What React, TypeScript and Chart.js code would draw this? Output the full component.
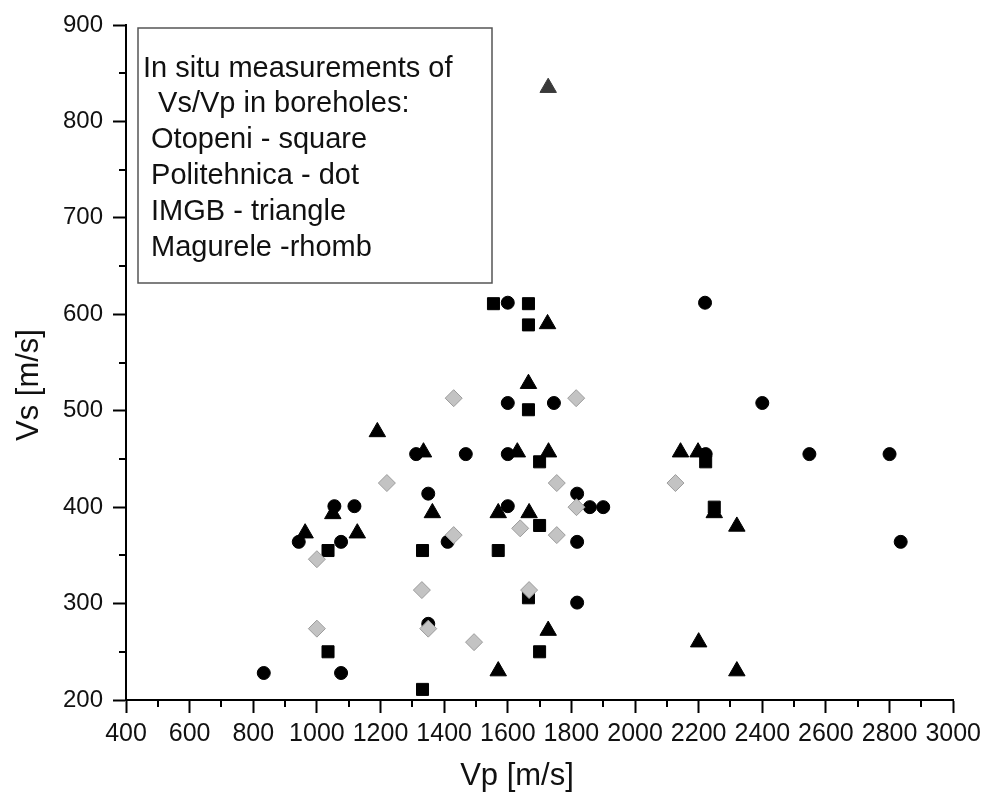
import React, { useEffect, useRef } from "react";
import { Chart, registerables } from "chart.js";

Chart.register(...registerables);

// Borehole measurements: P-wave velocity (Vp) and S-wave velocity (Vs), m/s
const otopeniVp = [1555, 1665, 1665, 1665, 1700, 2222, 2249, 1700, 1035, 1332, 1570, 1665, 1035, 1700, 1332];
const otopeniVs = [611, 611, 589, 501, 447, 447, 400, 381, 355, 355, 355, 306, 250, 250, 211];

const politehnicaVp = [1600, 2220, 1600, 1745, 2400, 1312, 1468, 1600, 2222, 2548, 2800, 1350, 1818, 1055, 1118, 1600, 1858, 1900, 943, 1076, 1411, 1818, 2835, 1818, 1350, 833, 1076];
const politehnicaVs = [612, 612, 508, 508, 508, 455, 455, 455, 455, 455, 455, 414, 414, 401, 401, 401, 400, 400, 364, 364, 364, 364, 364, 301, 279, 228, 228];

const imgbVp = [1727, 1725, 1665, 1190, 1335, 1630, 1728, 2143, 2198, 1050, 1363, 1570, 1667, 2249, 963, 1127, 2320, 1727, 2200, 1570, 2320];
const imgbVs = [835, 590, 528, 478, 457, 457, 457, 457, 457, 393, 394, 394, 394, 394, 373, 373, 380, 272, 260, 230, 230];

const magureleVp = [1430, 1815, 1220, 1754, 2127, 1816, 1639, 1430, 1754, 1000, 1330, 1667, 1000, 1350, 1494];
const magureleVs = [513, 513, 425, 425, 425, 400, 378, 371, 371, 346, 314, 314, 274, 274, 260];

const xTickValues = [400, 600, 800, 1000, 1200, 1400, 1600, 1800, 2000, 2200, 2400, 2600, 2800, 3000];
const yTickValues = [200, 300, 400, 500, 600, 700, 800, 900];

const noteLines = [
  "In situ measurements of",
  " Vs/Vp in boreholes:",
  " Otopeni - square",
  " Politehnica - dot",
  " IMGB - triangle",
  " Magurele -rhomb",
];

const xTitle = "Vp [m/s]";
const yTitle = "Vs [m/s]";

const FONT = "'Liberation Sans', Arial, Helvetica, sans-serif";

const toPoints = (xs: number[], ys: number[]) => xs.map((x, i) => ({ x, y: ys[i] }));

// Minor ticks, axis titles and the boxed note
const decorPlugin = {
  id: "decor",
  beforeDatasetsDraw(chart: any) {
    const { ctx } = chart;
    ctx.save();
    // note box
    ctx.fillStyle = "#ffffff";
    ctx.fillRect(138, 28, 354, 255);
    ctx.strokeStyle = "#555555";
    ctx.lineWidth = 1.5;
    ctx.strokeRect(138, 28, 354, 255);
    ctx.fillStyle = "#111111";
    ctx.font = `29px ${FONT}`;
    ctx.textAlign = "left";
    ctx.textBaseline = "alphabetic";
    const xs = [143, 150, 143, 143, 143, 143];
    const baselines = [77, 112, 148, 184, 220, 256];
    noteLines.forEach((t, i) => ctx.fillText(t, xs[i], baselines[i]));
    ctx.restore();
  },
  afterDraw(chart: any) {
    const { ctx, scales } = chart;
    const xs = scales.x;
    const ys = scales.y;
    ctx.save();
    ctx.strokeStyle = "#000";
    ctx.lineWidth = 2;
    ctx.beginPath();
    for (let v = 500; v < 3000; v += 200) {
      const px = Math.round(xs.getPixelForValue(v));
      ctx.moveTo(px, xs.top);
      ctx.lineTo(px, xs.top + 7);
    }
    for (let v = 250; v < 900; v += 100) {
      const py = Math.round(ys.getPixelForValue(v));
      ctx.moveTo(ys.right - 7, py);
      ctx.lineTo(ys.right, py);
    }
    ctx.stroke();

    ctx.fillStyle = "#111111";
    ctx.font = `31px ${FONT}`;
    ctx.textAlign = "center";
    ctx.textBaseline = "middle";
    ctx.fillText(xTitle, 517, 776);
    ctx.translate(29, 385);
    ctx.rotate(-Math.PI / 2);
    ctx.fillText(yTitle, 0, 0);
    ctx.restore();
  },
};

export default function App() {
  const canvasRef = useRef<HTMLCanvasElement | null>(null);

  useEffect(() => {
    const canvas = canvasRef.current;
    if (!canvas) return;

    const triangleFill = imgbVp.map((_, i) => (imgbVs[i] > 800 ? "#3a3a3a" : "#000000"));

    const chart = new Chart(canvas, {
      type: "scatter",
      data: {
        datasets: [
          {
            label: "Magurele",
            data: toPoints(magureleVp, magureleVs),
            pointStyle: "rectRot",
            pointRadius: 8.5,
            backgroundColor: "#c3c3c3",
            borderColor: "#9c9c9c",
            borderWidth: 1,
            order: 0,
          },
          {
            label: "IMGB",
            data: toPoints(imgbVp, imgbVs),
            pointStyle: "triangle",
            pointRadius: 9.5,
            backgroundColor: triangleFill,
            borderColor: triangleFill,
            borderWidth: 1,
            order: 1,
          },
          {
            label: "Politehnica",
            data: toPoints(politehnicaVp, politehnicaVs),
            pointStyle: "circle",
            pointRadius: 6.5,
            backgroundColor: "#000000",
            borderColor: "#000000",
            borderWidth: 1,
            order: 2,
          },
          {
            label: "Otopeni",
            data: toPoints(otopeniVp, otopeniVs),
            pointStyle: "rect",
            pointRadius: 8.5,
            backgroundColor: "#000000",
            borderColor: "#000000",
            borderWidth: 1,
            order: 3,
          },
        ],
      },
      options: {
        responsive: false,
        animation: false,
        devicePixelRatio: 1,
        events: [],
        layout: { padding: { top: 25, right: 32, left: 0, bottom: 0 } },
        plugins: {
          legend: { display: false },
          tooltip: { enabled: false },
        },
        scales: {
          x: {
            type: "linear",
            min: xTickValues[0],
            max: xTickValues[xTickValues.length - 1],
            afterFit: (s: any) => {
              s.height = 101;
            },
            afterBuildTicks: (s: any) => {
              s.ticks = xTickValues.map((v) => ({ value: v }));
            },
            ticks: {
              autoSkip: false,
              maxRotation: 0,
              minRotation: 0,
              padding: 6,
              color: "#111111",
              font: { family: FONT, size: 25 },
              callback: (v: any) => String(v),
            },
            grid: {
              display: true,
              drawOnChartArea: false,
              drawTicks: true,
              tickLength: 13,
              tickWidth: 2,
              tickColor: "#000",
            },
            border: { display: true, color: "#000", width: 2 },
          },
          y: {
            type: "linear",
            min: yTickValues[0],
            max: yTickValues[yTickValues.length - 1],
            afterFit: (s: any) => {
              s.width = 126;
            },
            afterBuildTicks: (s: any) => {
              s.ticks = yTickValues.map((v) => ({ value: v }));
            },
            ticks: {
              autoSkip: false,
              padding: 10,
              color: "#111111",
              font: { family: FONT, size: 24 },
              callback: (v: any) => String(v),
            },
            grid: {
              display: true,
              drawOnChartArea: false,
              drawTicks: true,
              tickLength: 13,
              tickWidth: 2,
              tickColor: "#000",
            },
            border: { display: true, color: "#000", width: 2 },
          },
        },
      },
      plugins: [decorPlugin],
    });

    return () => chart.destroy();
  }, []);

  return (
    <div style={{ position: "absolute", left: 0, top: 0, width: 987, height: 801, background: "#fff" }}>
      <canvas ref={canvasRef} width={987} height={801} style={{ display: "block" }} />
    </div>
  );
}
